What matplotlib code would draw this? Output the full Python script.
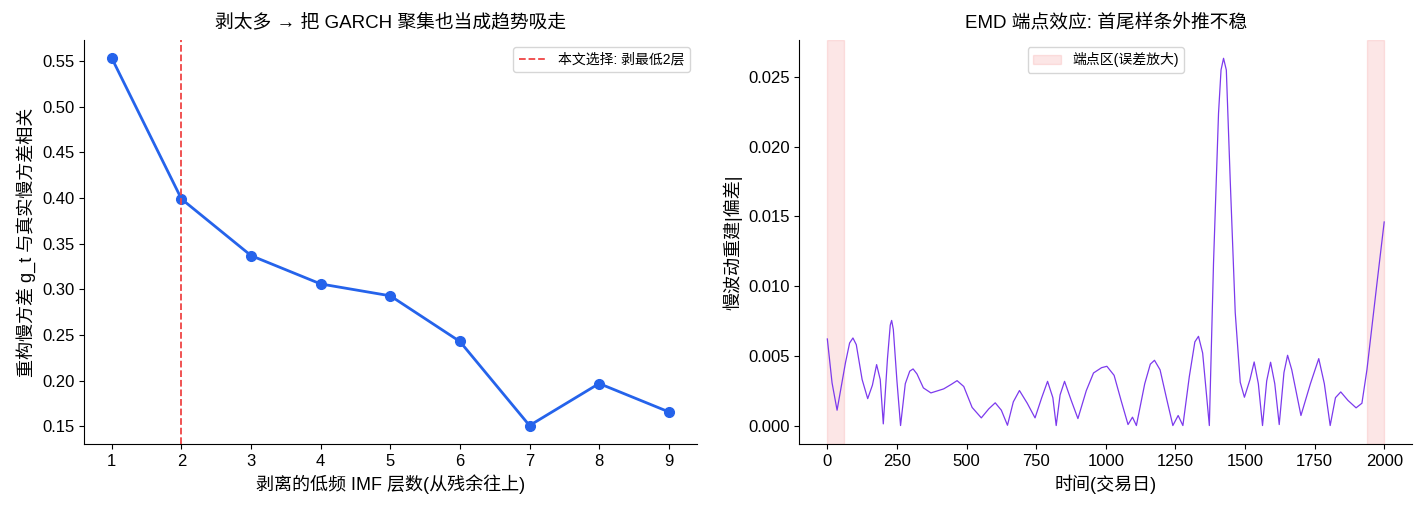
import numpy as np
import matplotlib
matplotlib.use('Agg')
import matplotlib.pyplot as plt

plt.rcParams['font.family'] = ['Liberation Sans', 'Noto Sans CJK SC', 'DejaVu Sans']
plt.rcParams['axes.unicode_minus'] = False

# 左图: 剥离层数 vs 相关
layers = [1, 2, 3, 4, 5, 6, 7, 8, 9]
corr = [0.553, 0.399, 0.337, 0.306, 0.293, 0.243, 0.151, 0.197, 0.166]
chosen = 2

# 右图: 端点效应 (从图上读出的关键点)
t_days = [0, 17, 35, 65, 80, 92, 104, 125, 145, 162, 177, 190, 201, 216, 226, 231, 237, 250, 263,
          280, 296, 308, 322, 345, 372, 418, 445, 466, 490, 520, 553, 580, 603, 625, 647, 668, 690,
          718, 746, 770, 791, 810, 822, 836, 852, 876, 900, 930, 956, 985, 1004, 1030, 1055, 1080,
          1096, 1110, 1140, 1160, 1175, 1195, 1220, 1241, 1260, 1277, 1300, 1320, 1333, 1348,
          1372, 1387, 1405, 1414, 1423, 1433, 1447, 1465, 1483, 1498, 1518, 1533, 1548, 1563,
          1578, 1592, 1607, 1623, 1640, 1653, 1668, 1701, 1735, 1765, 1785, 1806, 1825, 1844,
          1870, 1899, 1920, 1938, 1974, 2000]
dev = [0.00621, 0.00306, 0.00110, 0.00449, 0.00592, 0.00628, 0.00580, 0.00330, 0.00193, 0.00290,
       0.00437, 0.00330, 0.00012, 0.00480, 0.00720, 0.00754, 0.00690, 0.00320, 0.00000,
       0.00300, 0.00390, 0.00406, 0.00370, 0.00270, 0.00234, 0.00263, 0.00295, 0.00322, 0.00280,
       0.00130, 0.00055, 0.00120, 0.00163, 0.00110, 0.00002, 0.00170, 0.00251, 0.00160, 0.00055,
       0.00200, 0.00317, 0.00200, 0.00000, 0.00220, 0.00317, 0.00180, 0.00050, 0.00250, 0.00377,
       0.00415, 0.00425, 0.00360, 0.00180, 0.00007, 0.00060, 0.00000, 0.00300, 0.00440, 0.00468,
       0.00400, 0.00180, 0.00000, 0.00072, 0.00000, 0.00350, 0.00600, 0.00640, 0.00520, 0.00000,
       0.01165, 0.02240, 0.02550, 0.02634, 0.02550, 0.01760, 0.00810, 0.00310, 0.00203, 0.00330,
       0.00456, 0.00300, 0.00000, 0.00320, 0.00454, 0.00300, 0.00007, 0.00380, 0.00504, 0.00400,
       0.00072, 0.00300, 0.00480, 0.00300, 0.00000, 0.00200, 0.00241, 0.00180, 0.00127, 0.00160,
       0.00400, 0.01020, 0.01460]
edge_spans = [(0, 60), (1940, 2000)]

fig, (ax1, ax2) = plt.subplots(1, 2, figsize=(14.24, 5.12), dpi=100)
fig.subplots_adjust(left=0.059, right=0.9916, bottom=0.133, top=0.922, wspace=0.168)

ax1.plot(layers, corr, '-o', color='#2563eb', lw=2, ms=7)
ax1.axvline(chosen, color='#ef4444', ls='--', lw=1.3, label='本文选择: 剥最低2层')
ax1.set_xticks(layers)
ax1.set_xlabel('剥离的低频 IMF 层数(从残余往上)', fontsize=13)
ax1.set_ylabel('重构慢方差 g_t 与真实慢方差相关', fontsize=13)
ax1.set_title('剥太多 → 把 GARCH 聚集也当成趋势吸走', fontsize=13.5, pad=9)
ax1.legend(loc='upper right', fontsize=10)
ax1.tick_params(labelsize=12)

ax2.plot(t_days, dev, color='#7c3aed', lw=0.9)
for i, (a, b) in enumerate(edge_spans):
    ax2.axvspan(a, b, color='#ef4444', alpha=0.13, label='端点区(误差放大)' if i == 0 else None)
ax2.set_xlabel('时间(交易日)', fontsize=13)
ax2.set_ylabel('慢波动重建|偏差|', fontsize=13)
ax2.set_title('EMD 端点效应: 首尾样条外推不稳', fontsize=13.5, pad=9)
ax2.legend(loc='upper center', fontsize=10)
ax2.tick_params(labelsize=12)

for ax in (ax1, ax2):
    ax.spines['top'].set_visible(False)
    ax.spines['right'].set_visible(False)

plt.savefig('out.png', dpi=100)
